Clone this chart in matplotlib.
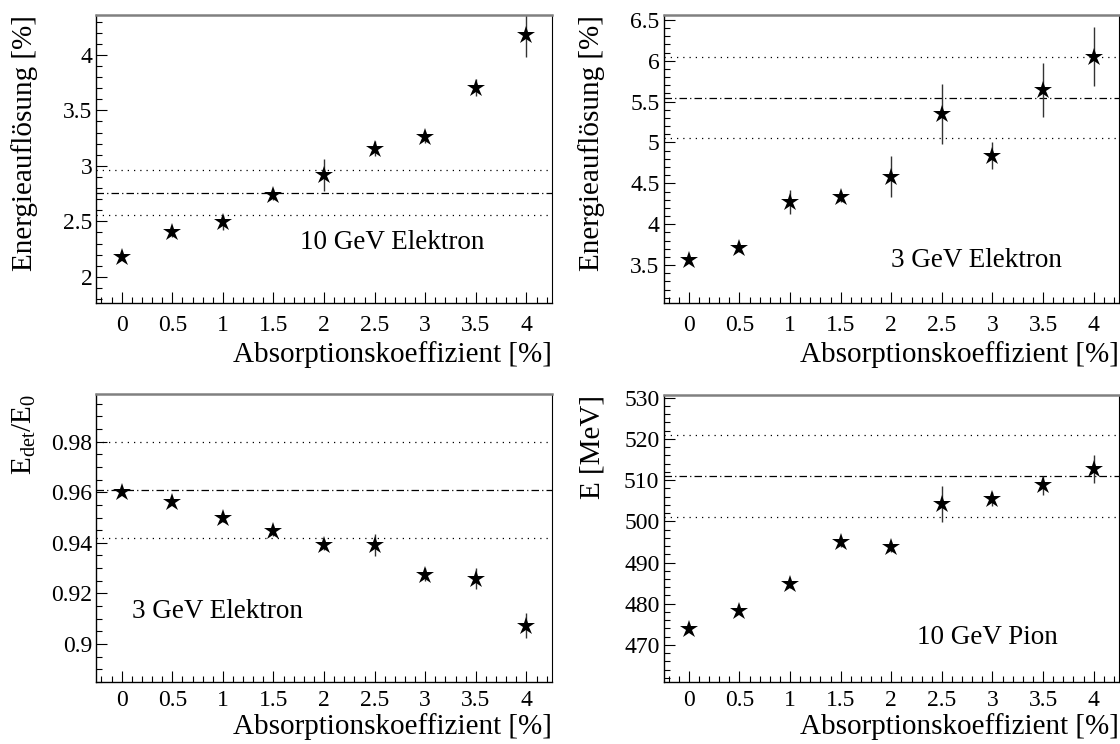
import matplotlib
matplotlib.use("Agg")
import matplotlib.pyplot as plt
from matplotlib.ticker import MultipleLocator, FormatStrFormatter

plt.rcParams['font.family'] = ['Liberation Serif', 'DejaVu Serif']
plt.rcParams['mathtext.fontset'] = 'custom'
plt.rcParams['mathtext.rm'] = 'Liberation Serif'
plt.rcParams['mathtext.it'] = 'Liberation Serif:italic'

# Absorptionskoeffizient [%]
absorption = [0, 0.5, 1, 1.5, 2, 2.5, 3, 3.5, 4]

# Energieaufloesung 10 GeV Elektron [%]
res_10gev = [2.18, 2.40, 2.49, 2.74, 2.92, 3.155, 3.256, 3.706, 4.18]
res_10gev_err = [0.03, 0.04, 0.07, 0.05, 0.145, 0.07, 0.05, 0.08, 0.2]

# Energieaufloesung 3 GeV Elektron [%]
res_3gev = [3.56, 3.71, 4.27, 4.33, 4.58, 5.35, 4.84, 5.64, 6.05]
res_3gev_err = [0.04, 0.05, 0.15, 0.06, 0.25, 0.365, 0.16, 0.33, 0.365]

# E_det/E_0 3 GeV Elektron
ratio_3gev = [0.960, 0.956, 0.9497, 0.9445, 0.9392, 0.9391, 0.9274, 0.9259, 0.9073]
ratio_3gev_err = [0.001, 0.001, 0.0015, 0.002, 0.002, 0.0043, 0.0025, 0.004, 0.005]

# deponierte Energie 10 GeV Pion [MeV]
pion_energy = [473.9, 478.3, 484.8, 494.9, 493.7, 504.2, 505.4, 508.8, 512.6]
pion_energy_err = [0.8, 0.8, 1.0, 1.2, 1.2, 4.4, 1.6, 2.3, 3.4]

# Referenzwert ohne Absorption und Toleranzband
ref_values = [2.76, 5.55, 0.961, 511.0]
ref_bands = [0.2, 0.5, 0.019, 10.0]

panels = [
    dict(y=res_10gev, yerr=res_10gev_err, ylabel='Energieauflösung [%]',
         label='10 GeV Elektron', label_pos=(1.76, 2.31),
         ylim=(1.76, 4.36), major=0.5, minor=0.1,
         rect=[0.0861, 0.5921, 0.4065, 0.3878], xpad=8, xlabelpad=4),
    dict(y=res_3gev, yerr=res_3gev_err, ylabel='Energieauflösung [%]',
         label='3 GeV Elektron', label_pos=(2.0, 3.55),
         ylim=(3.03, 6.56), major=0.5, minor=0.1,
         rect=[0.5925, 0.5921, 0.4066, 0.3878], xpad=8, xlabelpad=4),
    dict(y=ratio_3gev, yerr=ratio_3gev_err, ylabel=r'$\mathrm{E_{det}/E_{0}}$',
         label='3 GeV Elektron', label_pos=(0.1, 0.913),
         ylim=(0.885, 0.999), major=0.02, minor=0.005,
         rect=[0.0861, 0.0833, 0.4065, 0.3878], xpad=6, xlabelpad=1.5),
    dict(y=pion_energy, yerr=pion_energy_err, ylabel='E [MeV]',
         label='10 GeV Pion', label_pos=(2.25, 471.9),
         ylim=(461, 530.6), major=10, minor=2,
         rect=[0.5925, 0.0833, 0.4066, 0.3855], xpad=6, xlabelpad=1.5),
]

fig = plt.figure(figsize=(11.2, 7.44), dpi=100)

for p, ref, band in zip(panels, ref_values, ref_bands):
    ax = fig.add_axes(p['rect'])

    # Referenz (strichpunktiert) und +/- Band (gepunktet)
    ax.axhline(ref, color='black', lw=0.9, dashes=(6, 2.5, 1, 2.5), zorder=1)
    ax.axhline(ref + band, color='black', lw=0.9, dashes=(1, 4), zorder=1)
    ax.axhline(ref - band, color='black', lw=0.9, dashes=(1, 4), zorder=1)

    ax.errorbar(absorption, p['y'], yerr=p['yerr'], fmt='none',
                ecolor='#333333', elinewidth=1.0, capsize=0, zorder=2)
    ax.plot(absorption, p['y'], '*', color='black', ms=13.5, mew=0, zorder=3)

    ax.text(p['label_pos'][0], p['label_pos'][1], p['label'],
            fontsize=19.5, ha='left', va='center')

    ax.set_xlim(-0.25, 4.25)
    ax.set_ylim(*p['ylim'])
    ax.xaxis.set_major_locator(MultipleLocator(0.5))
    ax.xaxis.set_minor_locator(MultipleLocator(0.1))
    ax.yaxis.set_major_locator(MultipleLocator(p['major']))
    ax.yaxis.set_minor_locator(MultipleLocator(p['minor']))
    ax.xaxis.set_major_formatter(FormatStrFormatter('%g'))
    ax.yaxis.set_major_formatter(FormatStrFormatter('%g'))

    ax.tick_params(which='both', direction='in', top=False, right=False,
                   width=0.8, labelsize=17)
    ax.tick_params(which='major', length=8)
    ax.tick_params(which='minor', length=4)
    ax.tick_params(axis='x', pad=p['xpad'])
    ax.tick_params(axis='y', pad=3)

    ax.spines['top'].set_color('#808080')
    ax.spines['top'].set_linewidth(1.8)
    ax.spines['right'].set_linewidth(0.8)
    ax.spines['left'].set_linewidth(1.0)
    ax.spines['bottom'].set_linewidth(1.0)

    ax.set_xlabel('Absorptionskoeffizient [%]', fontsize=21, loc='right',
                  labelpad=p['xlabelpad'])
    ax.set_ylabel(p['ylabel'], fontsize=21, loc='top')
    ax.yaxis.set_label_coords(-0.128, 1.0)

fig.savefig('out.png', dpi=100, facecolor='white')
